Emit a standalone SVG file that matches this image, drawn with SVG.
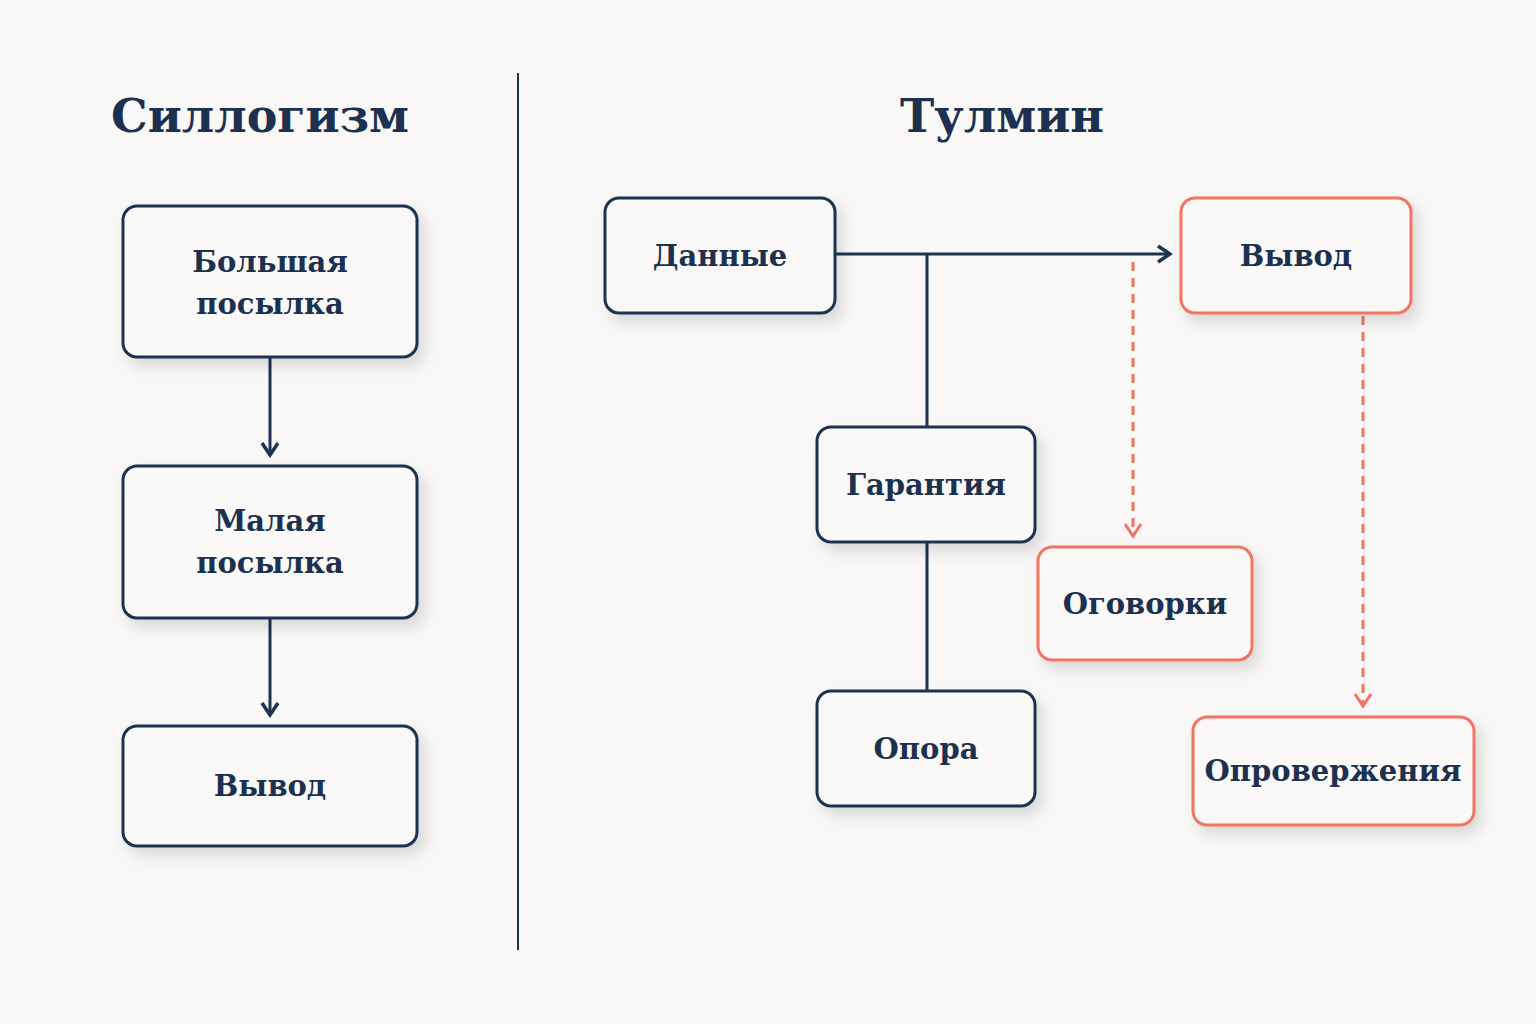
<svg xmlns="http://www.w3.org/2000/svg" width="1536" height="1024" viewBox="0 0 1536 1024">
<style>
.t{font-family:"DejaVu Serif","Liberation Serif",serif;font-weight:bold;fill:#1c3050;text-anchor:middle}
.h{font-size:46px}
.l{font-size:29px}
.n{fill:#faf9f7;stroke:#1c3353;stroke-width:3}
.r{fill:#faf9f7;stroke:#f07465;stroke-width:3}
.c{fill:none;stroke:#1c3353;stroke-width:3}
.d{fill:none;stroke:#f07465;stroke-width:3;stroke-dasharray:9 7}
</style>
<defs>
<filter id="s" x="-20%" y="-20%" width="150%" height="160%"><feDropShadow dx="6" dy="8" stdDeviation="7" flood-color="#000" flood-opacity="0.13"/></filter>
<marker id="a" viewBox="0 0 20 20" refX="17" refY="10" markerWidth="20" markerHeight="20" markerUnits="userSpaceOnUse" orient="auto"><path d="M5,2 L17,10 L5,18" fill="none" stroke="#1c3353" stroke-width="3.5"/></marker>
<marker id="b" viewBox="0 0 20 20" refX="17" refY="10" markerWidth="20" markerHeight="20" markerUnits="userSpaceOnUse" orient="auto"><path d="M5,2 L17,10 L5,18" fill="none" stroke="#f07465" stroke-width="3"/></marker>
</defs>
<rect width="1536" height="1024" fill="#f9f8f6"/>
<text class="t h" x="260" y="132">Силлогизм</text>
<text class="t h" x="1002" y="132">Тулмин</text>
<line x1="518" y1="73" x2="518" y2="950" stroke="#1c3353" stroke-width="2"/>
<g id="connectors">
<path class="c" d="M270,358 V455" marker-end="url(#a)"/>
<path class="c" d="M270,619 V715" marker-end="url(#a)"/>
<path class="c" d="M836,254 H1170" marker-end="url(#a)"/>
<path class="c" d="M927,254 V427 M927,543 V691"/>
<path class="d" d="M1133,262 V536" marker-end="url(#b)"/>
<path class="d" d="M1363,316 V706" marker-end="url(#b)"/>
</g>
<g id="major"><rect class="n" filter="url(#s)" x="123" y="206" width="294" height="151" rx="14"/><text class="t l" x="270" y="272">Большая</text><text class="t l" x="270" y="314">посылка</text></g>
<g id="minor"><rect class="n" filter="url(#s)" x="123" y="466" width="294" height="152" rx="14"/><text class="t l" x="270" y="531">Малая</text><text class="t l" x="270" y="573">посылка</text></g>
<g id="concl1"><rect class="n" filter="url(#s)" x="123" y="726" width="294" height="120" rx="14"/><text class="t l" x="270" y="796">Вывод</text></g>
<g id="data"><rect class="n" filter="url(#s)" x="605" y="198" width="230" height="115" rx="14"/><text class="t l" x="720" y="266">Данные</text></g>
<g id="concl2"><rect class="r" filter="url(#s)" x="1181" y="198" width="230" height="115" rx="14"/><text class="t l" x="1296" y="266">Вывод</text></g>
<g id="warrant"><rect class="n" filter="url(#s)" x="817" y="427" width="218" height="115" rx="14"/><text class="t l" x="926" y="495">Гарантия</text></g>
<g id="backing"><rect class="n" filter="url(#s)" x="817" y="691" width="218" height="115" rx="14"/><text class="t l" x="926" y="759">Опора</text></g>
<g id="qual"><rect class="r" filter="url(#s)" x="1038" y="547" width="214" height="113" rx="14"/><text class="t l" x="1145" y="614">Оговорки</text></g>
<g id="rebut"><rect class="r" filter="url(#s)" x="1193" y="717" width="281" height="108" rx="14"/><text class="t l" x="1333" y="781">Опровержения</text></g>
</svg>
